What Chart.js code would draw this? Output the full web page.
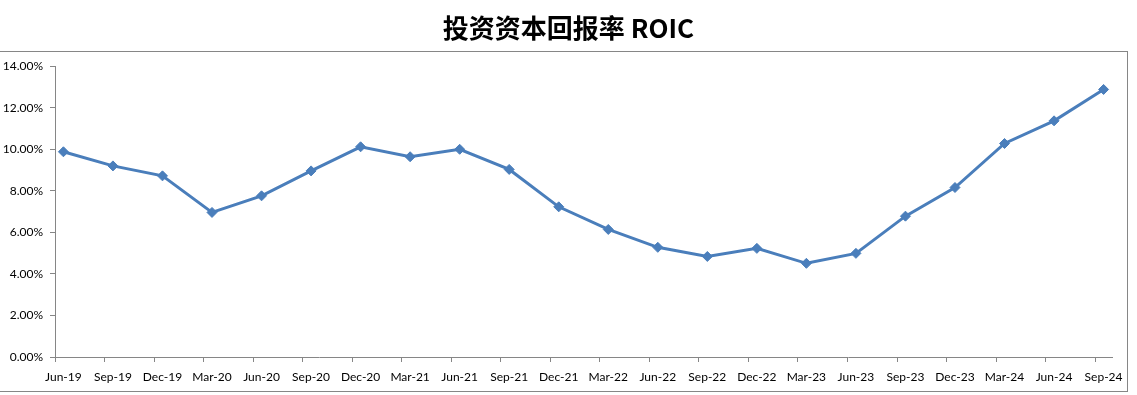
<!DOCTYPE html>
<html>
<head>
<meta charset="utf-8">
<script src="https://cdn.jsdelivr.net/npm/chart.js@4"></script>
<style>
  html, body { margin: 0; padding: 0; background: #fff; }
  #wrap { width: 1137px; height: 395px; }
</style>
</head>
<body>
<div id="wrap"><canvas id="roicChart" width="1137" height="395"></canvas></div>
<script>
const categories = ['Jun-19', 'Sep-19', 'Dec-19', 'Mar-20', 'Jun-20', 'Sep-20', 'Dec-20', 'Mar-21',
  'Jun-21', 'Sep-21', 'Dec-21', 'Mar-22', 'Jun-22', 'Sep-22', 'Dec-22', 'Mar-23',
  'Jun-23', 'Sep-23', 'Dec-23', 'Mar-24', 'Jun-24', 'Sep-24'];
const roic = [9.88, 9.20, 8.72, 6.96, 7.76, 8.96, 10.12, 9.64,
  10.00, 9.03, 7.23, 6.14, 5.28, 4.84, 5.23, 4.51,
  4.99, 6.78, 8.16, 10.28, 11.37, 12.88];
const yTicks = [0, 2, 4, 6, 8, 10, 12, 14];

const axisGray = '#868686';
const lineBlue = '#4A7EBB';
const tickShift = 0.17;

// outer frame like the Excel chart box, and let the y labels use the left margin
const framePlugin = {
    id: 'frame',
    afterLayout(chart) {
        chart.scales.y.left = 0;
    },
    beforeDraw(chart) {
        const ctx = chart.ctx;
        ctx.save();
        ctx.strokeStyle = axisGray;
        ctx.lineWidth = 1;
        ctx.strokeRect(-1, 51.5, 1128.5, 340);
        ctx.restore();
    }
};

new Chart(document.getElementById('roicChart').getContext('2d'), {
    type: 'line',
    data: {
        datasets: [{
            label: 'ROIC',
            data: roic.map((v, i) => ({ x: i, y: v })),
            borderColor: lineBlue,
            backgroundColor: lineBlue,
            borderWidth: 3,
            pointStyle: 'rectRot',
            pointRadius: 5,
            pointBorderWidth: 1,
            tension: 0
        }]
    },
    options: {
        responsive: false,
        animation: false,
        layout: { padding: { left: 25, right: 25, top: 0, bottom: 0 } },
        plugins: {
            legend: { display: false },
            tooltip: { enabled: false },
            title: {
                display: true,
                text: '投资资本回报率 ROIC',
                color: '#000',
                font: { family: '"Noto Sans CJK SC", "Open Sans", sans-serif', size: 26, weight: 'bold', lineHeight: 1.2 },
                padding: { top: 13, bottom: 22 }
            }
        },
        scales: {
            x: {
                type: 'linear',
                min: -tickShift,
                max: categories.length - 1 + tickShift,
                afterBuildTicks(scale) {
                    scale.ticks = categories.map((c, i) => ({ value: i - tickShift }));
                },
                afterFit(scale) { scale.height = 38; },
                border: { color: axisGray, width: 1 },
                grid: { drawOnChartArea: false, drawTicks: true, tickLength: 5, color: axisGray },
                ticks: {
                    autoSkip: false,
                    maxRotation: 0,
                    padding: 8,
                    labelOffset: 8.4,
                    color: '#000',
                    font: { family: 'Lato, "Liberation Sans", sans-serif', size: 12 },
                    callback: (value) => categories[Math.round(value + tickShift)]
                }
            },
            y: {
                min: 0,
                max: 14,
                afterBuildTicks(scale) {
                    scale.ticks = yTicks.map(v => ({ value: v }));
                },
                afterFit(scale) { scale.width = 30; },
                border: { color: axisGray, width: 1 },
                grid: { drawOnChartArea: false, drawTicks: true, tickLength: 5, color: axisGray },
                ticks: {
                    padding: 7,
                    color: '#000',
                    font: { family: 'Lato, "Liberation Sans", sans-serif', size: 12 },
                    callback: (value) => value.toFixed(2) + '%'
                }
            }
        }
    },
    plugins: [framePlugin]
});
</script>
</body>
</html>
